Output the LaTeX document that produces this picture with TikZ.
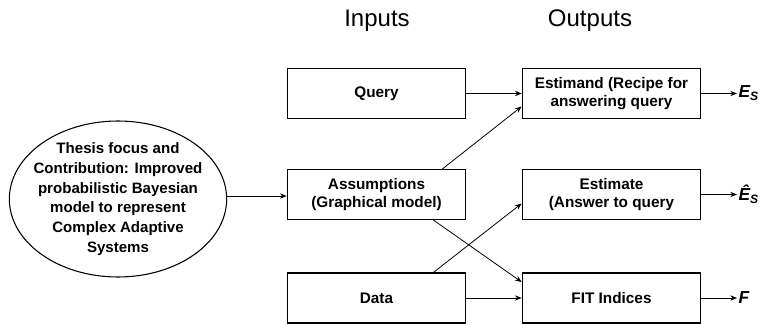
\documentclass[tikz,border=0pt]{standalone}
\usepackage{fontspec}
\setmainfont{Liberation Sans}
\usetikzlibrary{shapes.geometric,arrows.meta,calc}
\tikzset{
  box/.style={draw, line width=0.8pt, minimum width=134pt, minimum height=37.5pt, inner sep=2pt, align=center, font=\fontsize{11.5}{13.5}\selectfont\bfseries},
  outlbl/.style={anchor=west, inner sep=1pt, font=\fontsize{13}{15}\selectfont\bfseries\itshape},
  title/.style={font=\fontsize{18}{21}\selectfont},
  link/.style={-{Stealth[length=5pt,width=4pt]}, line width=0.6pt}
}
\begin{document}
\begin{tikzpicture}[x=0.75pt, y=-0.75pt]
        \useasboundingbox (0,0) rectangle (769,325);
        \node[title] (inputs) at (377,21) {Inputs};
        \node[title] (outputs) at (590,21) {Outputs};
        \node[draw, line width=0.8pt, ellipse, minimum width=163pt, minimum height=117pt, inner sep=0pt] (thesis) at (118,199) {};
        \node[align=center, font=\fontsize{11.3}{14.8}\selectfont\bfseries] (thesistext) at (thesis.center) {Thesis focus and\\Contribution: Improved\\probabilistic Bayesian\\model to represent\\Complex Adaptive\\Systems};
        \node[box] (query) at (376.5,93.5) {Query};
        \node[box] (assum) at (376.5,194.5) {Assumptions\\(Graphical model)};
        \node[box] (data) at (376.5,298) {Data};
        \node[box] (estimand) at (611.5,93.5) {Estimand (Recipe for\\answering query};
        \node[box] (estimate) at (611.5,194.5) {Estimate\\(Answer to query};
        \node[box] (fit) at (611.5,298) {FIT Indices};
        \coordinate (es) at (737,93.5);
        \coordinate (eshat) at (737,194.5);
        \coordinate (f) at (737,298);
        \node[outlbl] (eslbl) at (es) {E\textsubscript{S}};
        \node[outlbl] (eshatlbl) at (eshat) {Ê\textsubscript{S}};
        \node[outlbl] (flbl) at (f) {F};
        \draw[link] ($(thesis.east)+(0,-3)$) -- ($(thesis.east -| assum.west)+(0,-3)$);
        \draw[link] (query) -- (estimand);
        \draw[link] ($(assum.north east)+(-24,0)$) -- ($(estimand.west)+(0,13)$);
        \draw[link] ($(assum.south east)+(-33,0)$) -- ($(fit.west)+(0,-16)$);
        \draw[link] ($(data.north east)+(-33,0)$) -- ($(estimate.west)+(0,9)$);
        \draw[link] (data) -- (fit);
        \draw[link] (estimand) -- (es);
        \draw[link] (estimate) -- (eshat);
        \draw[link] (fit) -- (f);
\end{tikzpicture}
\end{document}
